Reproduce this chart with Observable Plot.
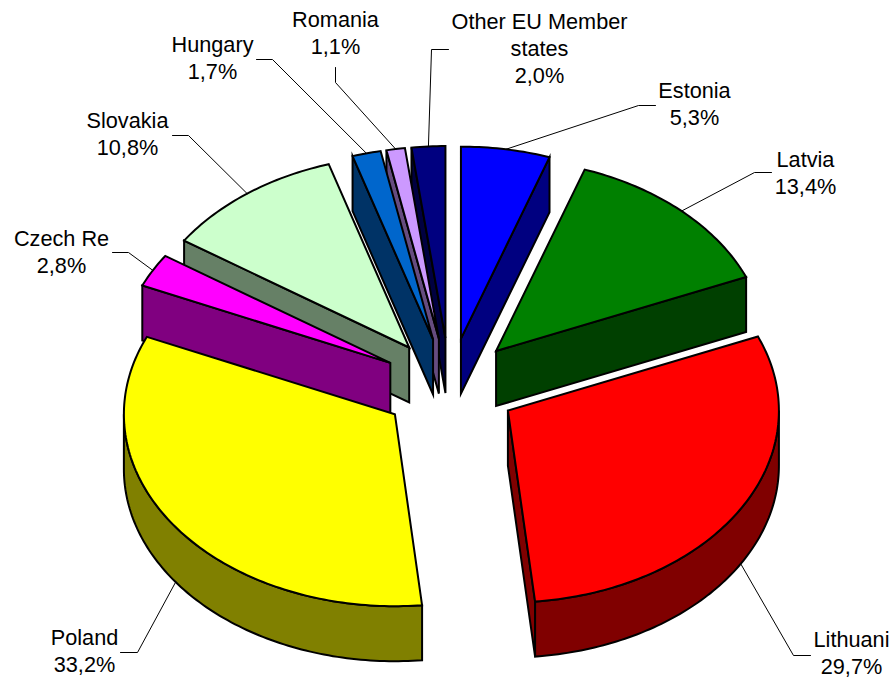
<!DOCTYPE html>
<html>
<head>
<meta charset="utf-8">
<script src="https://cdn.jsdelivr.net/npm/d3@7"></script>
<script src="https://cdn.jsdelivr.net/npm/@observablehq/plot@0.6"></script>
<style>
html,body{margin:0;padding:0;background:#fff;overflow:hidden}
svg{display:block}
</style>
</head>
<body>
<div id="chart"></div>
<script>
// Data
const countries = ["Estonia","Latvia","Lithuani","Poland","Czech Re","Slovakia","Hungary","Romania","Other EU Member\nstates"];
const shares = [5.3,13.4,29.7,33.2,2.8,10.8,1.7,1.1,2.0];
const shareLabels = ["5,3%","13,4%","29,7%","33,2%","2,8%","10,8%","1,7%","1,1%","2,0%"];
const topColors = ["#0000ff","#008000","#ff0000","#ffff00","#ff00ff","#ccffcc","#0066cc","#cc99ff","#000080"];
const sideColors = ["#000080","#004000","#800000","#808000","#800080","#668066","#003366","#664c80","#000040"];

// Layout (pixels)
const W = 893, H = 681, cx = 449.2, cy = 385.5, rx = 271, ry = 192, depthPx = 55, explode = 0.25;
const labelCenters = [[694,102],[805,171],[851,651],[84,649],[61,250],[127,132],[212,56],[335,31],[539,47]];
const elbows = [[638,105],[754,172],[793,655],[137,652],[128,252],[188,135],[272,59],[335,82],[431,49]];
const stubs = [[655,105],[771,172],[810,655],[120,652],[112,252],[172,135],[256,59],[335,67],[448,49]];
const paintOrder = [0,1,8,7,6,5,4,3,2];

const U = px => (px - cx) / rx;
const V = py => (cy - py) / ry;
const depth = depthPx / ry;
const total = d3.sum(shares);

// Slices: angle clockwise from 12 o'clock, in unit-pie coordinates
let acc = 0;
const slices = shares.map((s, i) => {
  const a0 = acc / total * 2 * Math.PI;
  acc += s;
  const a1 = acc / total * 2 * Math.PI;
  const m = (a0 + a1) / 2;
  return {i, a0, a1, m, ox: explode * Math.sin(m), oy: explode * Math.cos(m)};
});
const arc = (s, a, b) => {
  const n = Math.max(2, Math.ceil((b - a) / (Math.PI / 180)));
  return d3.range(n + 1).map(k => {
    const t = a + (b - a) * k / n;
    return [s.ox + Math.sin(t), s.oy + Math.cos(t)];
  });
};
const down = p => [p[0], p[1] - depth];
const poly = (pts, fill) => Plot.line(pts, {
  x: d => d[0], y: d => d[1], curve: "linear-closed", fill,
  stroke: "#000", strokeWidth: 2, strokeLinejoin: "miter", strokeMiterlimit: 6
});

const marks = [];
for (const i of paintOrder) {
  const s = slices[i];
  const apex = [s.ox, s.oy];
  const edge = a => [s.ox + Math.sin(a), s.oy + Math.cos(a)];
  const side = sideColors[i];
  if (Math.sin(s.a0) < -1e-6) marks.push(poly([apex, edge(s.a0), down(edge(s.a0)), down(apex)], side));
  if (Math.sin(s.a1) > 1e-6) marks.push(poly([apex, edge(s.a1), down(edge(s.a1)), down(apex)], side));
  const lo = Math.max(s.a0, Math.PI / 2), hi = Math.min(s.a1, 3 * Math.PI / 2);
  if (hi > lo) {
    const o = arc(s, lo, hi);
    marks.push(poly([...o, ...o.slice().reverse().map(down)], side));
  }
  marks.push(poly([apex, ...arc(s, s.a0, s.a1)], topColors[i]));
}

// Leader lines: from the middle of each slice's rim, via the elbow, to the stub
slices.forEach(s => {
  const rim = [s.ox + Math.sin(s.m), s.oy + Math.cos(s.m)];
  const start = Math.cos(s.m) < 0 ? down(rim) : rim;
  const pts = [start, [U(elbows[s.i][0]), V(elbows[s.i][1])], [U(stubs[s.i][0]), V(stubs[s.i][1])]];
  marks.push(Plot.line(pts, {x: d => d[0], y: d => d[1], stroke: "#000", strokeWidth: 1, strokeLinejoin: "miter"}));
});

const labels = countries.map((c, i) => ({text: c + "\n" + shareLabels[i], x: U(labelCenters[i][0]), y: V(labelCenters[i][1])}));
marks.push(Plot.text(labels, {
  x: "x", y: "y", text: "text", fill: "#000", fontSize: 21.7, lineHeight: 1.25,
  fontFamily: "Liberation Sans, Arial, sans-serif", textAnchor: "middle", lineAnchor: "middle"
}));

const chart = Plot.plot({
  width: W, height: H, margin: 0,
  style: {background: "#fff", overflow: "visible"},
  x: {axis: null, domain: [U(0), U(W)], range: [0, W]},
  y: {axis: null, domain: [V(0), V(H)], range: [0, H]},
  marks
});
document.getElementById("chart").appendChild(chart);
</script>
</body>
</html>
